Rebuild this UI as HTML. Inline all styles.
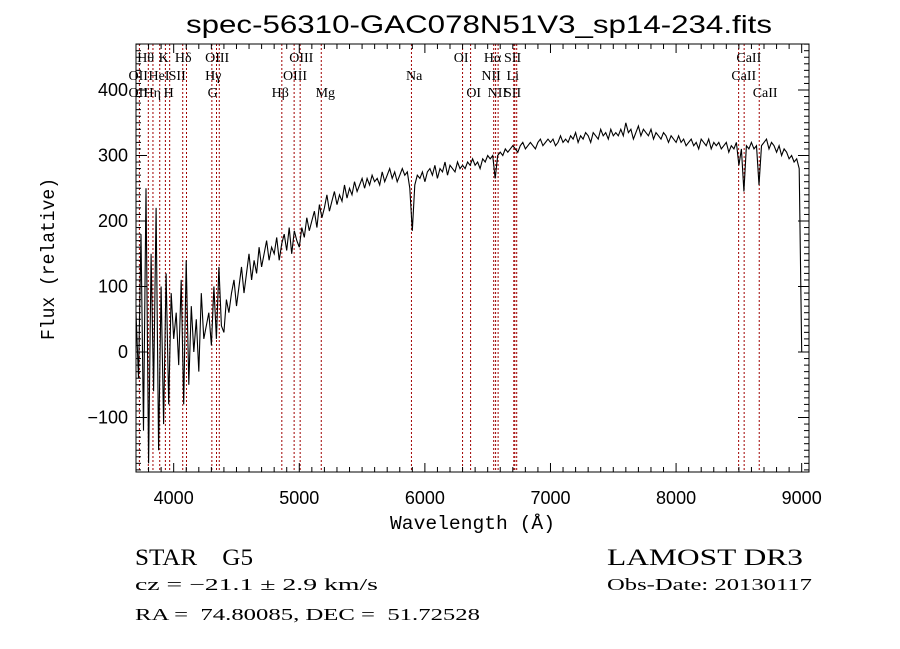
<!DOCTYPE html>
<html><head><meta charset="utf-8"><style>
html,body{margin:0;padding:0;background:#fff;}
svg{display:block;font-family:"Liberation Serif",serif;}
</style></head><body>
<svg id="chart" width="900" height="649" xmlns="http://www.w3.org/2000/svg">
<rect x="0" y="0" width="900" height="649" fill="#fff"/>
<text x="186" y="33" font-size="25" textLength="586" lengthAdjust="spacingAndGlyphs" font-family="Liberation Sans, sans-serif">spec-56310-GAC078N51V3_sp14-234.fits</text>
<g id="lines"></g>
<g id="labels"></g>
<path id="spec" fill="none" stroke="#000" stroke-width="1.1"/>
<rect x="136" y="44" width="673" height="428" fill="none" stroke="#000" stroke-width="1"/>
<g id="axes"></g>
<text x="390" y="529" font-size="19" textLength="165" lengthAdjust="spacingAndGlyphs" font-family="Liberation Mono, monospace">Wavelength (Å)</text>
<text transform="translate(54,340) rotate(-90)" font-size="19" textLength="162" lengthAdjust="spacingAndGlyphs" font-family="Liberation Mono, monospace">Flux (relative)</text>
<text x="135" y="565" font-size="23" textLength="118" lengthAdjust="spacingAndGlyphs" xml:space="preserve">STAR    G5</text>
<text x="607" y="565" font-size="23" textLength="196" lengthAdjust="spacingAndGlyphs">LAMOST DR3</text>
<text x="135" y="590" font-size="17" textLength="243" lengthAdjust="spacingAndGlyphs">cz = −21.1 ± 2.9 km/s</text>
<text x="607" y="590" font-size="17" textLength="205" lengthAdjust="spacingAndGlyphs">Obs-Date: 20130117</text>
<text x="135" y="620" font-size="17" textLength="345" lengthAdjust="spacingAndGlyphs" xml:space="preserve">RA =  74.80085, DEC =  51.72528</text>
</svg>
<script>
const wStart = 3700, wStep = 20;
const flux = [
60,-40,180,-120,250,-170,150,-60,220,-150,100,-110,120,-80,90,20,
60,-20,110,-80,140,-50,70,0,50,-30,90,20,40,60,10,
100,20,130,40,30,80,60,90,110,70,
100,130,90,120,150,110,140,120,160,130,150,170,140,160,150,
175,140,165,180,155,190,150,185,170,160,
190,175,205,185,200,215,190,225,205,220,240,215,230,245,225,
240,230,255,235,250,240,260,245,255,265,250,265,255,270,260,
265,255,275,260,270,280,265,275,260,270,280,270,275,250,
185,255,
270,265,275,260,275,280,270,285,265,280,275,290,270,285,280,275,290,280,285,
280,290,285,295,285,290,280,295,290,300,295,300,
265,300,
305,300,310,305,310,315,310,305,315,320,310,315,320,315,310,320,325,315,320,325,320,
325,315,320,330,320,325,320,330,325,335,320,330,325,335,330,320,335,330,325,340,330,335,325,340,330,
335,330,340,330,350,335,340,325,335,345,330,340,335,330,340,325,335,330,325,335,330,320,330,325,320,
330,320,325,315,320,325,315,320,310,325,320,315,325,310,320,315,320,310,315,320,305,315,310,320,
285,310,245,315,310,320,310,315,255,315,
320,325,310,320,315,305,315,300,310,305,295,300,290,295,280,0];
const lineWaves = [3727,3798,3835,3889,3934,3968,4072,4102,4304,4341,4363,4861,4959,5007,5175,5893,6300,6364,6548,6563,6583,6708,6716,6731,8498,8542,8662];
const labelText = ["Hθ","K","Hδ","OIII","OIII","OI","Hα","SII","CaII",
  "OII","HeI","SII","Hγ","OIII","Na","NII","Li","CaII",
  "OII","Hη","H","G","Hβ","Mg","OI","NII","SII","CaII"];
const labelWave = [3710,3880,4010,4250,4920,6230,6470,6630,8480,
  3640,3800,3960,4250,4870,5850,6450,6650,8440,
  3640,3760,3920,4270,4780,5130,6330,6500,6630,8610];
const labelRow = [0,0,0,0,0,0,0,0,0,1,1,1,1,1,1,1,1,1,2,2,2,2,2,2,2,2,2,2];
const xTicks = [4000,5000,6000,7000,8000,9000];
const yTicks = [-100,0,100,200,300,400];

const NS="http://www.w3.org/2000/svg";
const X = w => 136 + (w-3700)*0.1256;
const Y = f => 352 - f*0.655;
function mk(tag, attrs, parent){const e=document.createElementNS(NS,tag);for(const k in attrs)e.setAttribute(k,attrs[k]);parent.appendChild(e);return e;}

let d="";
flux.forEach((f,i)=>{const w=wStart+i*wStep;d+=(i?"L":"M")+X(w).toFixed(1)+" "+Y(f).toFixed(1);});
document.getElementById('spec').setAttribute('d',d);

const lg=document.getElementById('lines');
lineWaves.forEach(w=>{
  const l=mk('line',{x1:X(w),x2:X(w),y1:44,y2:472,stroke:'#a00000','stroke-width':1,'stroke-dasharray':'2,2'},lg);
  
  
});
const lb=document.getElementById('labels');
const rowY=[62,80,97];
labelText.forEach((t,i)=>{
  const e=mk('text',{x:X(labelWave[i]),y:rowY[labelRow[i]],'font-size':14},lb);
  e.textContent=t;
  
  
});

const ax=document.getElementById('axes');
for(let w=3700;w<=9050;w+=100){
  const major = w%1000===0;
  const len = major?9:5;
  mk('line',{x1:X(w),x2:X(w),y1:472,y2:472-len,stroke:'#000'},ax);
  mk('line',{x1:X(w),x2:X(w),y1:44,y2:44+len,stroke:'#000'},ax);
}
xTicks.forEach(w=>{
  const t=mk('text',{x:X(w),y:504,'font-size':18,'text-anchor':'middle','font-family':'Liberation Sans, sans-serif'},ax);
  t.textContent=String(w);
  
  
});
for(let f=-180;f<=470;f+=10){
  const major=f%100===0;
  const len=major?11:5;
  const y=Y(f); if(y<44||y>472) continue;
  mk('line',{x1:136,x2:136+len,y1:y,y2:y,stroke:'#000'},ax);
  mk('line',{x1:809,x2:809-len,y1:y,y2:y,stroke:'#000'},ax);
}
yTicks.forEach(f=>{
  const t=mk('text',{x:128,y:Y(f)+6,'font-size':18,'text-anchor':'end','font-family':'Liberation Sans, sans-serif'},ax);
  t.textContent=f<0?"−"+Math.abs(f):String(f);
  
  
});
</script>
</body></html>
